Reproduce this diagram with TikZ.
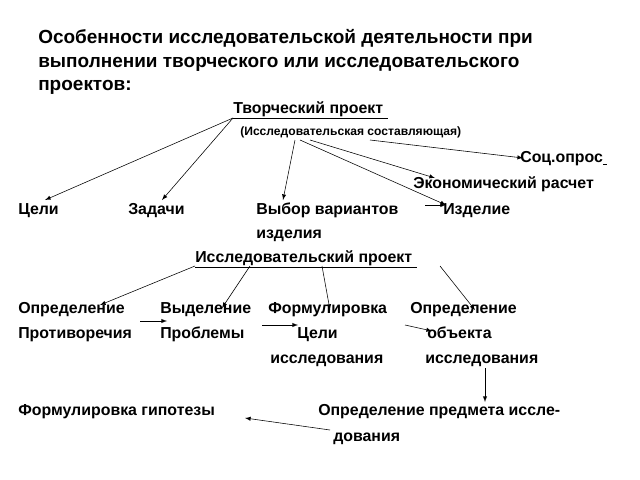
\documentclass[tikz,border=0pt]{standalone}
\usepackage{fontspec}
\setmainfont{Liberation Sans}
\begin{document}
\begin{tikzpicture}[x=0.025cm,y=-0.025cm,%
% common options for texts:
txt/.style = {anchor=base west, inner sep=0, font=\bfseries\fontsize{11.3}{13}\selectfont},
head/.style = {anchor=base west, inner sep=0, font=\bfseries\fontsize{13.5}{16}\selectfont},
small/.style = {anchor=base west, inner sep=0, font=\bfseries\fontsize{8.6}{10}\selectfont},
% common options for the arrows:
arr/.style = {->, >=latex, thin, shorten >=0pt}]
\useasboundingbox (0,0) rectangle (640,480);
\node[head] (T1) at (38,43) {Особенности исследовательской деятельности при};
\node[head] (T2) at (38,67) {выполнении творческого или исследовательского};
\node[head] (T3) at (38,91) {проектов:};
\node[txt] (C0) at (233,113) {\underline{Творческий проект\ }};
\node[small] (C1) at (240,135) {(Исследовательская составляющая)};
\node[txt] (C2) at (520,162) {Соц.опрос\underline{\ }};
\node[txt] (C3) at (413,188) {Экономический расчет};
\node[txt] (B1) at (18,214) {Цели};
\node[txt] (B2) at (128,214) {Задачи};
\node[txt] (B3) at (256,214) {Выбор вариантов};
\node[txt] (B4) at (443,214) {Изделие};
\node[txt] (B5) at (256,238) {изделия};
\node[txt] (R0) at (195,262) {\underline{Исследовательский проект\ }};
\node[txt] (D1) at (18,313) {Определение};
\node[txt] (D2) at (160,313) {Выделение};
\node[txt] (D3) at (268,313) {Формулировка};
\node[txt] (D4) at (410,313) {Определение};
\node[txt] (E1) at (18,338) {Противоречия};
\node[txt] (E2) at (160,338) {Проблемы};
\node[txt] (E3) at (297,338) {Цели};
\node[txt] (E4) at (427,338) {объекта};
\node[txt] (F3) at (270,363) {исследования};
\node[txt] (F4) at (425,363) {исследования};
\node[txt] (G1) at (18,415) {Формулировка гипотезы};
\node[txt] (G2) at (318,415) {Определение предмета иссле-};
\node[txt] (G3) at (333,441) {дования};
% arrow end points
\coordinate (c0) at (233,118);
\coordinate (c1a) at (295,140);
\coordinate (c1b) at (300,140);
\coordinate (c1c) at (310,140);
\coordinate (c1d) at (370,140);
\coordinate (b1) at (45,200);
\coordinate (b2) at (162,200);
\coordinate (b3) at (283,200);
\coordinate (b4) at (446,205);
\coordinate (b3e) at (425,205);
\coordinate (c3) at (435,178);
\coordinate (c2) at (523,158);
\coordinate (r1) at (195,266);
\coordinate (r2) at (250,266);
\coordinate (r3) at (322,266);
\coordinate (r4) at (440,266);
\coordinate (d1) at (100,305);
\coordinate (d2) at (222,308);
\coordinate (d3) at (330,310);
\coordinate (d4) at (475,310);
\draw[arr] (c0) -- (b1);
\draw[arr] (c0) -- (b2);
\draw[arr] (c1a) -- (b3);
\draw[arr] (c1b) -- (b4);
\draw[arr] (c1c) -- (c3);
\draw[arr] (c1d) -- (c2);
\draw[arr] (b3e) -- (b4);
\draw[arr] (r1) -- (d1);
\draw[arr] (r2) -- (d2);
\draw[arr] (r3) -- (d3);
\draw[arr] (r4) -- (d4);
\coordinate (e1) at (140,321);
\coordinate (e2) at (167,321);
\coordinate (e3) at (262,325);
\coordinate (e4) at (298,325);
\coordinate (e5) at (405,325);
\coordinate (e6) at (432,331);
\coordinate (f4) at (485,368);
\coordinate (g2) at (485,402);
\coordinate (g3) at (330,430);
\coordinate (g1) at (245,418);
\draw[arr] (e1) -- (e2);
\draw[arr] (e3) -- (e4);
\draw[arr] (e5) -- (e6);
\draw[arr] (f4) -- (g2);
\draw[arr] (g3) -- (g1);
\end{tikzpicture}
\end{document}
